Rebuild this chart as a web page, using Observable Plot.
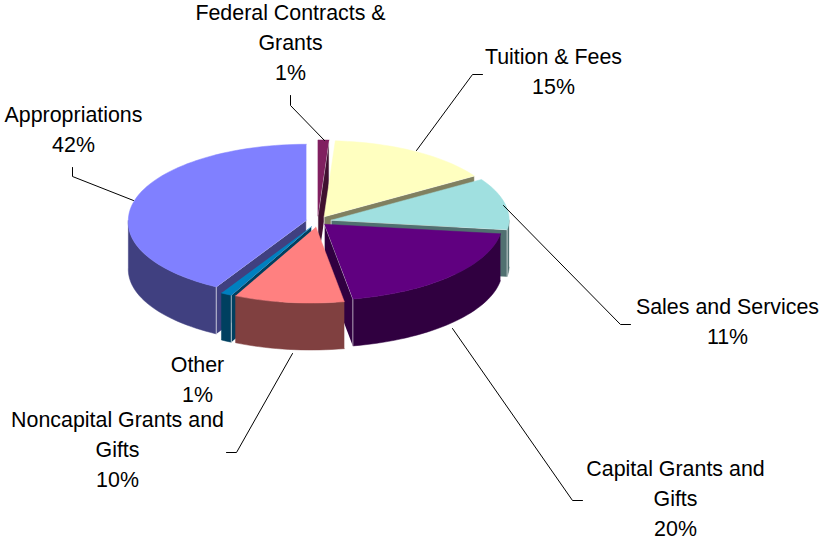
<!DOCTYPE html>
<html>
<head>
<meta charset="utf-8">
<script src="https://cdn.jsdelivr.net/npm/d3@7"></script>
<script src="https://cdn.jsdelivr.net/npm/@observablehq/plot@0.6"></script>
<style>
html,body{margin:0;padding:0;background:#fff}
svg{display:block}
</style>
</head>
<body>
<div id="chart"></div>
<script>
// --- data, in clockwise order from 12 o'clock
const categories = ["Federal Contracts &\nGrants","Tuition & Fees","Sales and Services","Capital Grants and\nGifts","Noncapital Grants and\nGifts","Other","Appropriations"];
const shares = [1,15,11,20,10,1,42];

// --- styles
const topColors  = ["#802060","#FFFFC0","#A0E0E0","#600080","#FF8080","#0080C0","#8080FF"];
const sideColors = ["#401030","#808060","#507070","#300040","#804040","#004060","#404080"];
const paintOrder = [0,6,1,2,3,5,4];

// --- layout
const pie = {cx:317, cy:221, rx:178, ry:76, depth:47, frontShear:5};
const explode = [13,13,14,9.5,13,13,11.5];
const labelX = [290,553,727,675,117,197,73];
const labelY = [40,69,319,496,447,377,127];
const leaders = [
  [[290,95],[290,105],[324,140]],
  [[482,74],[472,74],[416,150]],
  [[630,324],[620,324],[503,205]],
  [[582,500],[572,500],[452,328]],
  [[226,452],[236,452],[292,353]],
  [],
  [[72,167],[72,176],[133,200]]
];

// --- pie geometry, derived from the shares
const rad = d => d * Math.PI / 180;
let acc = 0;
const slices = shares.map((v,i) => {
  const a0 = acc / d3.sum(shares) * 360;
  acc += v;
  const a1 = acc / d3.sum(shares) * 360;
  const m = rad((a0 + a1) / 2);
  const e = explode[i];
  return {i, a0, a1, ax: pie.cx + e * Math.sin(m), ay: pie.cy - e * Math.cos(m) * pie.ry / pie.rx};
});
const pt = (s,a) => {
  const c = Math.cos(rad(a));
  return [s.ax + pie.rx * Math.sin(rad(a)) + (c < 0 ? pie.frontShear * c : 0), s.ay - pie.ry * c];
};
const arc = (s,a0,a1) => {
  const n = Math.max(2, Math.ceil(Math.abs(a1 - a0) / 2));
  return d3.range(n + 1).map(k => pt(s, a0 + (a1 - a0) * k / n));
};
const shapes = [];
function add(id, points, fill, stroke, sw) {
  points.forEach(p => shapes.push({id, x:p[0], y:p[1], fill, stroke, sw}));
}
paintOrder.forEach(i => {
  const s = slices[i], side = sideColors[i], top = topColors[i], d = pie.depth;
  // outer wall, front half only
  const f0 = Math.max(s.a0, 90), f1 = Math.min(s.a1, 270);
  if (f1 > f0) {
    const a = arc(s, f0, f1);
    add(`w${i}`, [...a, ...a.slice().reverse().map(p => [p[0], p[1] + d])], side, side, 0.5);
  }
  // radial cut faces that point to the viewer
  [[s.a0, -90],[s.a1, 90]].forEach(([a, n], k) => {
    if (Math.cos(rad(a + n)) < -0.01) {
      const o = pt(s, a);
      add(`f${i}${k}`, [[s.ax, s.ay + d],[s.ax, s.ay], o, [o[0], o[1] + d]], side, "rgba(255,255,255,0.6)", 1);
    }
  });
  // top
  add(`t${i}`, [[s.ax, s.ay], ...arc(s, s.a0, s.a1)], top, top, 0.5);
});

const labels = categories.map((c,i) => ({text: `${c}\n${shares[i]}%`, x: labelX[i], y: labelY[i]}));
const leaderRows = leaders.flatMap((l,i) => l.map(p => ({i, x:p[0], y:p[1]})));

const chart = Plot.plot({
  width: 822, height: 541,
  margin: 0,
  x: {domain:[0,822], range:[0,822], axis:null},
  y: {domain:[0,541], range:[0,541], axis:null},
  style: {background:"#fff", fontFamily:"'Liberation Sans', Arial, sans-serif"},
  marks: [
    Plot.line(shapes, {x:"x", y:"y", z:"id", fill:"fill", stroke:"stroke", strokeWidth:"sw", strokeLinejoin:"round", curve:"linear"}),
    Plot.line(leaderRows, {x:"x", y:"y", z:"i", stroke:"#000", strokeWidth:1, curve:"linear"}),
    Plot.text(labels, {x:"x", y:"y", text:"text", fontSize:21.4, lineHeight:30/21.4, lineAnchor:"middle", textAnchor:"middle", fill:"#000"})
  ]
});
document.getElementById("chart").appendChild(chart);
</script>
</body>
</html>
